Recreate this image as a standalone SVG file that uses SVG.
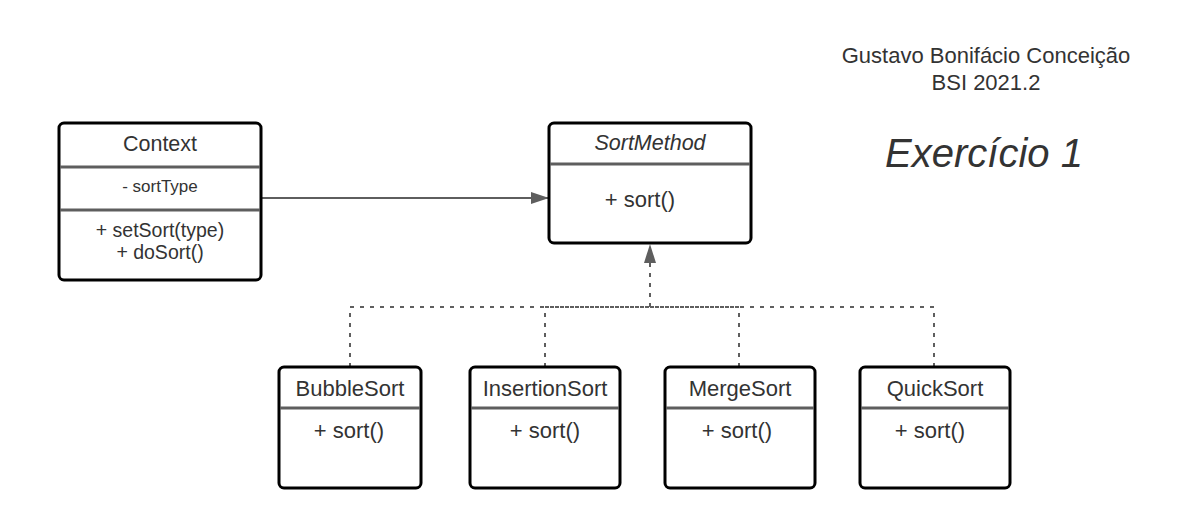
<svg xmlns="http://www.w3.org/2000/svg" width="1190" height="528" viewBox="0 0 1190 528">
<defs>
<style>
.box{fill:#fff;stroke:#000;stroke-width:3}
.div{stroke:#5e5e5e;stroke-width:3}
.t{font-family:"Liberation Sans",Arial,sans-serif;fill:#333;text-anchor:middle}
.conn{fill:none;stroke:#5e5e5e;stroke-width:2}
.dot{fill:none;stroke:#5e5e5e;stroke-width:2;stroke-dasharray:4 6}
</style>
<marker id="ah" viewBox="0 0 18 12" refX="18" refY="6" markerWidth="18" markerHeight="12" markerUnits="userSpaceOnUse" orient="auto">
<path d="M0,0 L18,6 L0,12 Z" fill="#5e5e5e"/>
</marker>
</defs>
<rect width="1190" height="528" fill="#fff"/>
<g id="header">
<text class="t" x="986" y="63" font-size="22">Gustavo Bonifácio Conceição</text>
<text class="t" x="986" y="90" font-size="22">BSI 2021.2</text>
<text class="t" x="984" y="167" font-size="40" font-style="italic">Exercício 1</text>
</g>
<g id="connectors">
<path class="conn" d="M261,198 L549,198" marker-end="url(#ah)"/>
<path class="dot" d="M350,367 L350,307 L650,307"/>
<path class="dot" d="M545,367 L545,307 L650,307"/>
<path class="dot" d="M739,367 L739,307 L650,307"/>
<path class="dot" d="M934,367 L934,307 L650,307"/>
<path class="dot" d="M650,307 L650,262"/>
<path d="M650,244 L656,263 L644,263 Z" fill="#5e5e5e"/>
</g>
<g id="context">
<rect class="box" x="59" y="123" width="202" height="157" rx="5"/>
<line class="div" x1="60" y1="167" x2="260" y2="167"/>
<line class="div" x1="60" y1="210" x2="260" y2="210"/>
<text class="t" x="160" y="151" font-size="21.5">Context</text>
<text class="t" x="160" y="192" font-size="17">- sortType</text>
<text class="t" x="160" y="237" font-size="19.5">+ setSort(type)</text>
<text class="t" x="160" y="259" font-size="19.5">+ doSort()</text>
</g>
<g id="sortmethod">
<rect class="box" x="549" y="123" width="202" height="120" rx="5"/>
<line class="div" x1="550" y1="164" x2="750" y2="164"/>
<text class="t" x="650" y="150" font-size="21.5" font-style="italic">SortMethod</text>
<text class="t" x="640" y="207" font-size="22">+ sort()</text>
</g>
<g id="bubblesort">
<rect class="box" x="279" y="367" width="142" height="121" rx="5"/>
<line class="div" x1="280" y1="408" x2="420" y2="408"/>
<text class="t" x="350" y="396" font-size="22">BubbleSort</text>
<text class="t" x="349" y="438" font-size="22">+ sort()</text>
</g>
<g id="insertionsort">
<rect class="box" x="470" y="367" width="150" height="121" rx="5"/>
<line class="div" x1="471" y1="408" x2="619" y2="408"/>
<text class="t" x="545" y="396" font-size="22">InsertionSort</text>
<text class="t" x="545" y="438" font-size="22">+ sort()</text>
</g>
<g id="mergesort">
<rect class="box" x="665" y="367" width="150" height="121" rx="5"/>
<line class="div" x1="666" y1="408" x2="814" y2="408"/>
<text class="t" x="740" y="396" font-size="22">MergeSort</text>
<text class="t" x="737" y="438" font-size="22">+ sort()</text>
</g>
<g id="quicksort">
<rect class="box" x="860" y="367" width="150" height="121" rx="5"/>
<line class="div" x1="861" y1="408" x2="1009" y2="408"/>
<text class="t" x="935" y="396" font-size="22">QuickSort</text>
<text class="t" x="930" y="438" font-size="22">+ sort()</text>
</g>
</svg>
